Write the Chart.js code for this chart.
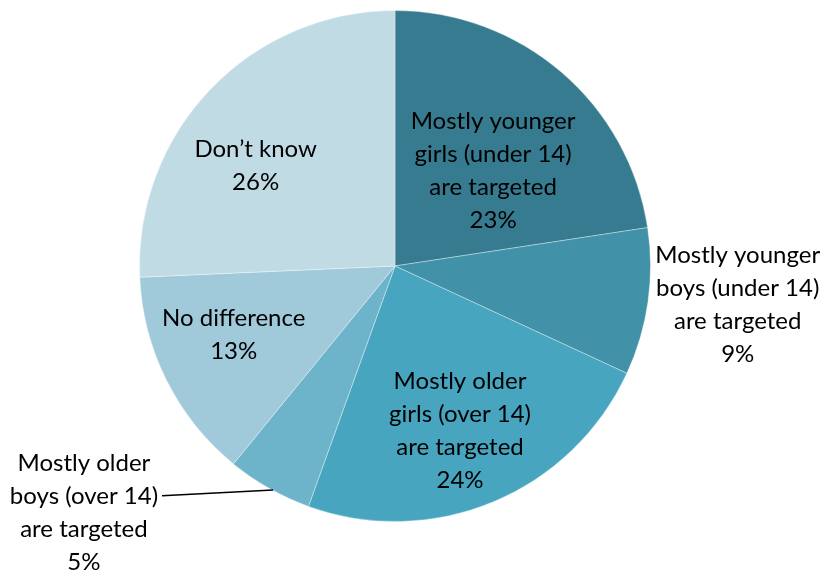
<!DOCTYPE html>
<html>
<head>
<meta charset="utf-8">
<script src="https://cdn.jsdelivr.net/npm/chart.js@4"></script>
<style>
  html, body { margin: 0; padding: 0; background: #fff; }
  #wrap { width: 824px; height: 570px; position: relative; }
</style>
</head>
<body>
<div id="wrap"><canvas id="pieChart" width="824" height="570"></canvas></div>
<script>
// Dados do gráfico
const categories = [
  ["Mostly younger", "girls (under 14)", "are targeted"],
  ["Mostly younger", "boys (under 14)", "are targeted"],
  ["Mostly older", "girls (over 14)", "are targeted"],
  ["Mostly older", "boys (over 14)", "are targeted"],
  ["No difference"],
  ["Don\u2019t know"],
];
const values = [22.6, 9.3, 23.6, 5.4, 13.4, 25.7];
const sliceColors = ["#367b8f", "#4192a9", "#47a5bf", "#6db4cb", "#a0c9da", "#c1dbe4"];

// posição dos rótulos: desvio de ângulo (graus) e fração do raio
const labelAngleShift = [5.3, -1.6, 1.2, 22.1, 3.4, -8];
const labelRadius = [0.534, 1.35, 0.695, 1.553, 0.687, 0.672];

const pieLabels = {
  id: "pieLabels",
  afterDatasetsDraw(chart) {
    const ctx = chart.ctx;
    const meta = chart.getDatasetMeta(0);
    ctx.save();
    ctx.font = "24px Lato, 'Liberation Sans', sans-serif";
    ctx.fillStyle = "#000";
    ctx.textAlign = "center";
    ctx.textBaseline = "middle";
    const lineH = 33;
    meta.data.forEach((arc, i) => {
      const p = arc.getProps(["x", "y", "startAngle", "endAngle", "outerRadius"], true);
      const mid = (p.startAngle + p.endAngle) / 2 + labelAngleShift[i] * Math.PI / 180;
      const r = p.outerRadius * labelRadius[i];
      const cx = p.x + Math.cos(mid) * r;
      const cy = p.y + Math.sin(mid) * r;
      const lines = categories[i].concat([Math.round(values[i]) + "%"]);
      const top = cy - (lines.length - 1) * lineH / 2;
      lines.forEach((t, k) => ctx.fillText(t, cx, top + k * lineH));

      // linha de chamada para a fatia pequena
      if (i === 3) {
        const m0 = (p.startAngle + p.endAngle) / 2;
        const ex = p.x + Math.cos(m0) * (p.outerRadius + 2);
        const ey = p.y + Math.sin(m0) * (p.outerRadius + 2);
        const w = ctx.measureText(lines[1]).width;
        ctx.beginPath();
        ctx.strokeStyle = "#000";
        ctx.lineWidth = 1.5;
        ctx.moveTo(ex + 5, ey);
        ctx.lineTo(cx + w / 2 + 4, top + lineH);
        ctx.stroke();
      }
    });
    ctx.restore();
  },
};

const ctx = document.getElementById("pieChart").getContext("2d");
const pieChart = new Chart(ctx, {
  type: "pie",
  data: {
    labels: categories.map((c) => c.join(" ")),
    datasets: [
      {
        data: values,
        backgroundColor: sliceColors,
        borderColor: "rgba(255,255,255,0.35)",
        borderWidth: 1,
      },
    ],
  },
  options: {
    responsive: false,
    animation: false,
    layout: { padding: { left: 139, right: 173, top: 10, bottom: 48 } },
    plugins: {
      legend: { display: false },
      tooltip: { enabled: false },
    },
  },
  plugins: [pieLabels],
});
</script>
</body>
</html>
